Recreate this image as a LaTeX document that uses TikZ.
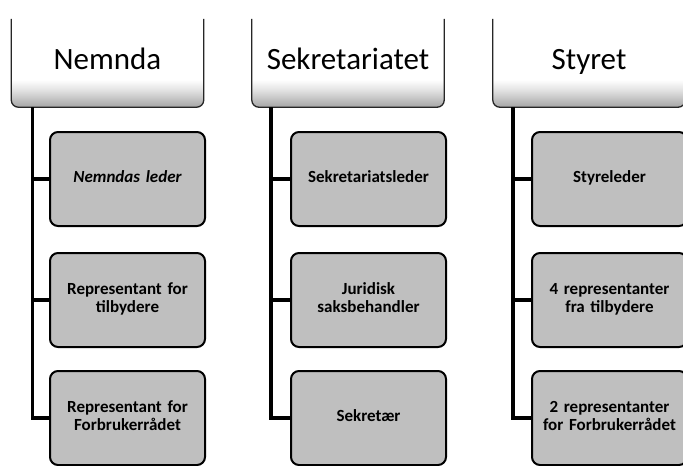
\documentclass[tikz,border=0pt]{standalone}
\usepackage{fontspec}
\setmainfont{Carlito}
\usetikzlibrary{positioning, calc}

% header fade: white above, grey band at the bottom
\pgfdeclareverticalshading{headfade}{100bp}{color(0bp)=(black!35); color(25bp)=(black!35); color(34bp)=(black!12); color(40bp)=(white); color(100bp)=(white)}

\begin{document}
\begin{tikzpicture}[
    x=1pt, y=-1pt,
    head/.style={rounded corners=7pt, shading=headfade, minimum width=192pt, minimum height=91pt, inner sep=0pt, text height=22pt, text depth=7pt, font=\fontsize{31}{36}\selectfont},
    head_line/.style={draw=black!85, line width=1.3pt, rounded corners=7pt},
    member/.style={draw=black, line width=2pt, rounded corners=8pt, fill=black!25, minimum width=155pt, minimum height=94pt, text width=148pt, align=center, inner sep=0pt, execute at begin node=\strut, execute at end node=\strut, font=\bfseries\fontsize{17}{18}\selectfont},
    link/.style={draw=black, line width=3.6pt}
]
\useasboundingbox (0,0) rectangle (683,466);
\clip (0,0) rectangle (683,466);

% headers
\node[head] (nemnda) at (107.5,61.5) {Nemnda};
\node[head] (sekr)   at (348,61.5)   {Sekretariatet};
\node[head] (styret) at (589,61.5)   {Styret};
\draw[head_line] ([yshift=-3pt]nemnda.north west) -- (nemnda.south west) -- (nemnda.south east) -- ([yshift=-3pt]nemnda.north east);
\draw[head_line] ([yshift=-3pt]sekr.north west) -- (sekr.south west) -- (sekr.south east) -- ([yshift=-3pt]sekr.north east);
\draw[head_line] ([yshift=-3pt]styret.north west) -- (styret.south west) -- (styret.south east) -- ([yshift=-3pt]styret.north east);

% Nemnda
\node[member] (nemnda1) at (127.5,179) {\itshape Nemndas leder};
\node[member] (nemnda2) at (127.5,300) {Representant for\\tilbydere};
\node[member] (nemnda3) at (127.5,418) {Representant for\\Forbrukerrådet};

% Sekretariatet
\node[member] (sekr1) at (368.5,179) {Sekretariatsleder};
\node[member] (sekr2) at (368.5,300) {Juridisk\\saksbehandler};
\node[member] (sekr3) at (368.5,418) {Sekretær};

% Styret
\node[member] (styret1) at (609.5,179) {Styreleder};
\node[member] (styret2) at (609.5,300) {4 representanter\\fra tilbydere};
\node[member] (styret3) at (609.5,418) {2 representanter\\for Forbrukerrådet};

% connectors
\coordinate (tN) at ([xshift=21pt]nemnda.south west);
\coordinate (tS) at ([xshift=19pt]sekr.south west);
\coordinate (tT) at ([xshift=20pt]styret.south west);
\draw[link] (tN) |- (nemnda3.west);
\draw[link] (tN |- nemnda1.west) -- (nemnda1.west);
\draw[link] (tN |- nemnda2.west) -- (nemnda2.west);
\draw[link] (tS) |- (sekr3.west);
\draw[link] (tS |- sekr1.west) -- (sekr1.west);
\draw[link] (tS |- sekr2.west) -- (sekr2.west);
\draw[link] (tT) |- (styret3.west);
\draw[link] (tT |- styret1.west) -- (styret1.west);
\draw[link] (tT |- styret2.west) -- (styret2.west);
\end{tikzpicture}
\end{document}
